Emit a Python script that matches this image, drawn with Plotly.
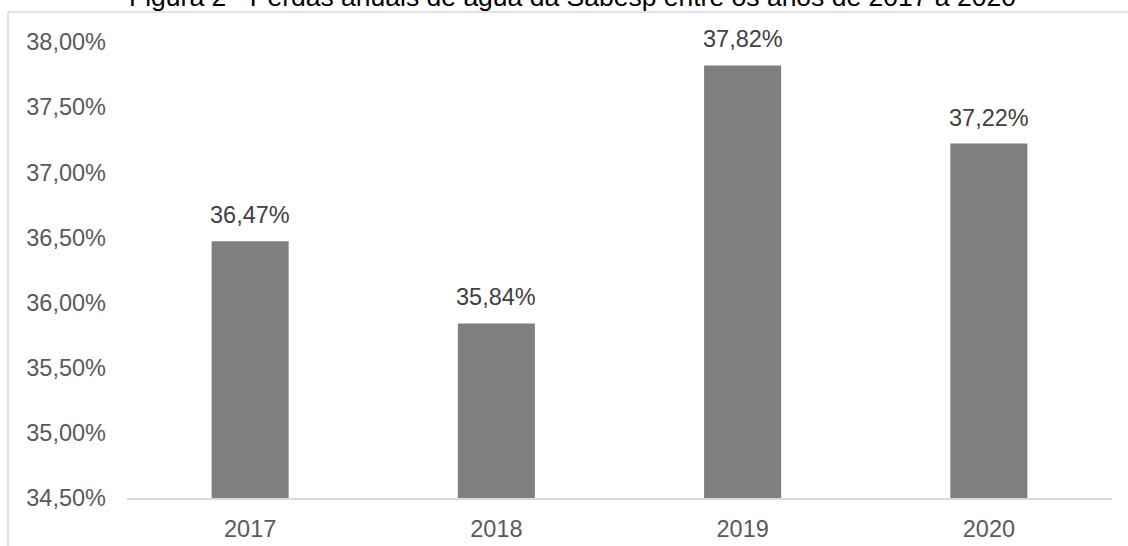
import plotly.graph_objects as go

# Annual water loss, Sabesp
years = ["2017", "2018", "2019", "2020"]
losses = [36.47, 35.84, 37.82, 37.22]
y_ticks = [34.5, 35.0, 35.5, 36.0, 36.5, 37.0, 37.5, 38.0]

title_text = "Figura 2 - Perdas anuais de água da Sabesp entre os anos de 2017 a 2020"

W, H = 1128, 546
L, R, T, B = 127, 16, 42, 48
pw, ph = W - L - R, H - T - B

def px_x(p):
    return (p - L) / pw

def px_y(p):
    return (H - B - p) / ph

def pct(v):
    return f"{v:.2f}".replace(".", ",") + "%"

fig = go.Figure()
fig.add_trace(go.Bar(
    x=years, y=losses,
    marker=dict(color="#7f7f7f", line=dict(width=0)),
    hoverinfo="skip",
))

# value labels above each bar (category index positions)
for i, v in enumerate(losses):
    fig.add_annotation(
        x=i, y=v, xref="x", yref="y",
        text=pct(v),
        showarrow=False, yanchor="bottom", yshift=11,
        font=dict(family="Liberation Sans, Arial", size=23.5, color="#404040"),
    )

# chart title sitting above the frame
fig.add_annotation(
    x=px_x(572.5), y=px_y(8), xref="paper", yref="paper",
    text=title_text, showarrow=False, xanchor="center", yanchor="bottom",
    yshift=-6,
    font=dict(family="Liberation Sans, Arial", size=26.5, color="#000000"),
)

# chart frame (left and top edges)
frame = dict(color="#d9d9d9", width=1.5)
fig.add_shape(type="line", xref="paper", yref="paper",
              x0=px_x(8), x1=px_x(8), y0=px_y(12), y1=px_y(560), line=frame)
fig.add_shape(type="line", xref="paper", yref="paper",
              x0=px_x(8), x1=px_x(1140), y0=px_y(12), y1=px_y(12), line=frame)

fig.update_layout(
    width=W, height=H,
    margin=dict(l=L, r=R, t=T, b=B, autoexpand=False),
    paper_bgcolor="white", plot_bgcolor="white",
    showlegend=False,
    bargap=0.687,
    font=dict(family="Liberation Sans, Arial", size=23.5, color="#595959"),
    xaxis=dict(
        type="category", categoryorder="array", categoryarray=years,
        range=[-0.5, len(years) - 0.5], automargin=False,
        showline=True, linecolor="#d9d9d9", linewidth=1.5,
        showgrid=False, ticks="", ticklabelstandoff=9,
        tickfont=dict(size=23.5, color="#595959"),
    ),
    yaxis=dict(
        range=[34.5, 38.0], tickvals=y_ticks, ticktext=[pct(t) for t in y_ticks],
        automargin=False,
        showgrid=False, zeroline=False, showline=False, ticks="",
        ticklabelstandoff=20,
        tickfont=dict(size=23.5, color="#595959"),
    ),
)

fig.write_html("out.html")
